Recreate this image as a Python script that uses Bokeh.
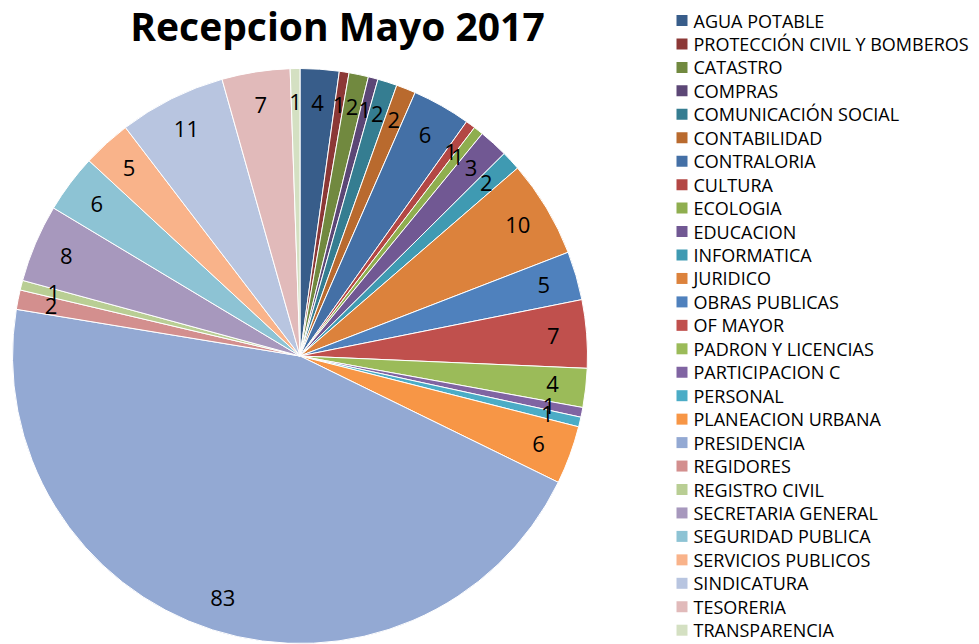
import math
from bokeh.plotting import figure
from bokeh.models import ColumnDataSource, Range1d
from bokeh.core.properties import value
from bokeh.embed import file_html
from bokeh.resources import INLINE

title = "Recepcion Mayo 2017"

categories = [
    "AGUA POTABLE", "PROTECCIÓN CIVIL Y BOMBEROS", "CATASTRO", "COMPRAS",
    "COMUNICACIÓN SOCIAL", "CONTABILIDAD", "CONTRALORIA", "CULTURA", "ECOLOGIA",
    "EDUCACION", "INFORMATICA", "JURIDICO", "OBRAS PUBLICAS", "OF MAYOR",
    "PADRON Y LICENCIAS", "PARTICIPACION C", "PERSONAL", "PLANEACION URBANA",
    "PRESIDENCIA", "REGIDORES", "REGISTRO CIVIL", "SECRETARIA GENERAL",
    "SEGURIDAD PUBLICA", "SERVICIOS PUBLICOS", "SINDICATURA", "TESORERIA",
    "TRANSPARENCIA",
]
values = [4, 1, 2, 1, 2, 2, 6, 1, 1, 3, 2, 10, 5, 7, 4, 1, 1, 6, 83, 2, 1, 8, 6, 5, 11, 7, 1]

colors = [
    "#385D8A", "#8C3836", "#71893F", "#5C4776", "#357D91", "#B96A2E",
    "#4470A6", "#B34744", "#8FAE4F", "#715893", "#3F9AB2", "#DC823C",
    "#4F81BD", "#C0504D", "#9BBB59", "#8064A2", "#4BACC6", "#F79646",
    "#93A9D3", "#D38F8E", "#B9CE94", "#A798BD", "#8DC3D4", "#F9B38A",
    "#B8C5E0", "#E1BABA", "#D4E0C2",
]

W, H = 979, 644
cx, cy, R = 299.5, 288.5, 287.5
label_r = 254

total = sum(values)
starts, ends, lx, ly = [], [], [], []
cum = 0
for v in values:
    a0 = math.pi / 2 - 2 * math.pi * cum / total
    cum += v
    a1 = math.pi / 2 - 2 * math.pi * cum / total
    starts.append(a0)
    ends.append(a1)
    mid = (a0 + a1) / 2
    lx.append(cx + label_r * math.cos(mid))
    ly.append(cy + label_r * math.sin(mid))

src = ColumnDataSource(dict(cat=categories, val=values, col=colors,
                            start=starts, end=ends, lx=lx, ly=ly,
                            txt=[str(v) for v in values]))

p = figure(width=W, height=H, output_backend="svg", toolbar_location=None,
           x_range=Range1d(0, W), y_range=Range1d(0, H),
           min_border=0, outline_line_color=None)
p.axis.visible = False
p.grid.visible = False
p.background_fill_color = "white"
p.border_fill_color = "white"

p.wedge(x=cx, y=cy, radius=R, start_angle="start", end_angle="end",
        direction="clock", fill_color="col", line_color="white",
        line_width=1, source=src)

p.text(x="lx", y="ly", text="txt", source=src, text_align="center",
       text_baseline="middle", text_font=value("Open Sans"),
       text_font_size="22px", text_color="black")

# title
p.text(x=[337], y=[619], text=[title], text_align="center",
       text_baseline="alphabetic", text_font=value("Open Sans"),
       text_font_style="bold", text_font_size="39px", text_color="black")

# legend
pitch = 23.45
leg_y = [624 - i * pitch for i in range(len(categories))]
leg = ColumnDataSource(dict(y=leg_y, cat=categories, col=colors))
p.rect(x=681.5, y="y", width=11, height=11, fill_color="col",
       line_color=None, source=leg)
p.text(x=693, y="y", text="cat", source=leg, text_align="left",
       text_baseline="middle", text_font=value("Open Sans"),
       text_font_size="18px", text_color="black")

open("out.html", "w").write(file_html(p, INLINE))
